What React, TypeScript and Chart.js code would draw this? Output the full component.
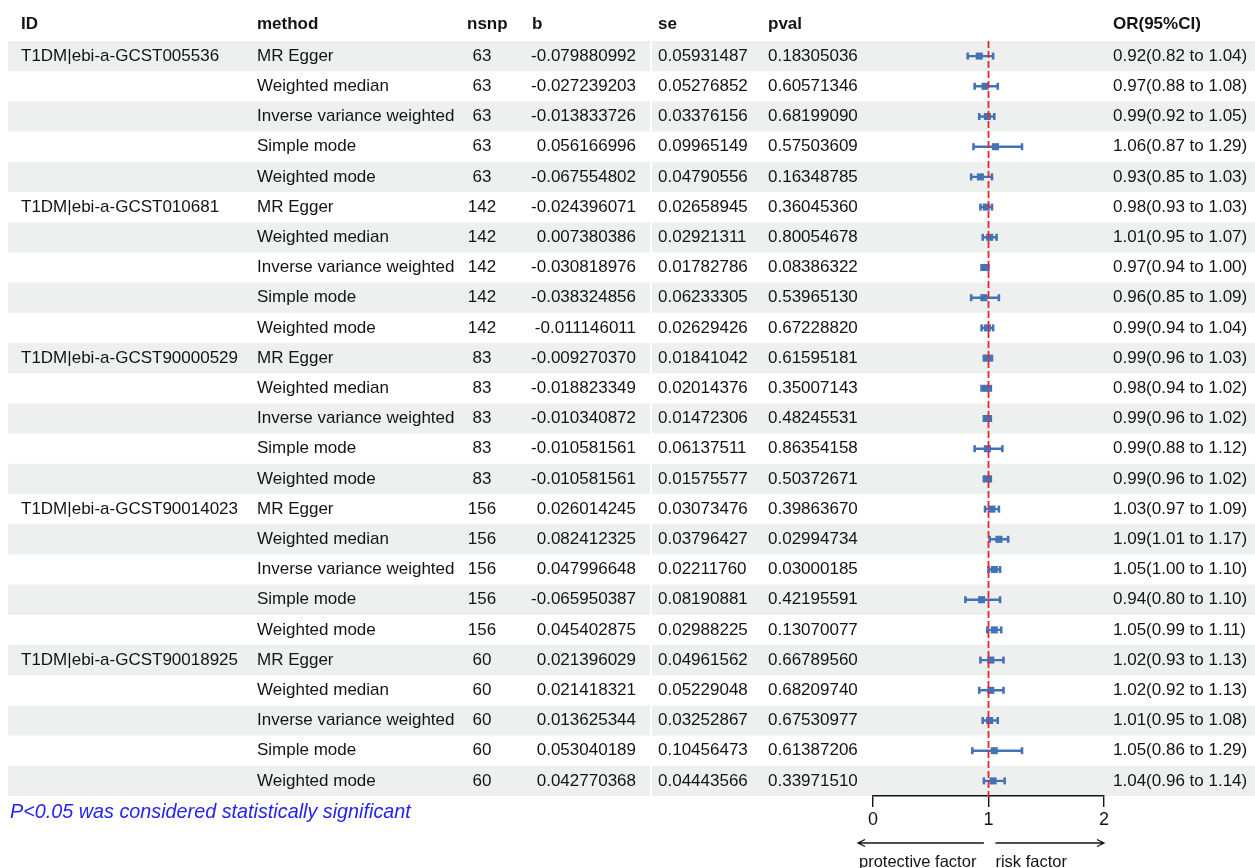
import React, { useEffect, useRef } from "react";
import { Chart, registerables } from "chart.js";

Chart.register(...registerables);

// ---- table data ----
const exposureIds = [
  "T1DM|ebi-a-GCST005536", "", "", "", "",
  "T1DM|ebi-a-GCST010681", "", "", "", "",
  "T1DM|ebi-a-GCST90000529", "", "", "", "",
  "T1DM|ebi-a-GCST90014023", "", "", "", "",
  "T1DM|ebi-a-GCST90018925", "", "", "", "",
];

const methodGroup = [
  "MR Egger",
  "Weighted median",
  "Inverse variance weighted",
  "Simple mode",
  "Weighted mode",
];
const methods = [
  ...methodGroup, ...methodGroup, ...methodGroup, ...methodGroup, ...methodGroup,
];

const nsnp = [
  63, 63, 63, 63, 63,
  142, 142, 142, 142, 142,
  83, 83, 83, 83, 83,
  156, 156, 156, 156, 156,
  60, 60, 60, 60, 60,
];

const betas = [
  -0.079880992, -0.027239203, -0.013833726, 0.056166996, -0.067554802,
  -0.024396071, 0.007380386, -0.030818976, -0.038324856, -0.011146011,
  -0.00927037, -0.018823349, -0.010340872, -0.010581561, -0.010581561,
  0.026014245, 0.082412325, 0.047996648, -0.065950387, 0.045402875,
  0.021396029, 0.021418321, 0.013625344, 0.053040189, 0.042770368,
];

const standardErrors = [
  0.05931487, 0.05276852, 0.03376156, 0.09965149, 0.04790556,
  0.02658945, 0.02921311, 0.01782786, 0.06233305, 0.02629426,
  0.01841042, 0.02014376, 0.01472306, 0.06137511, 0.01575577,
  0.03073476, 0.03796427, 0.0221176, 0.08190881, 0.02988225,
  0.04961562, 0.05229048, 0.03252867, 0.10456473, 0.04443566,
];

const pValues = [
  0.18305036, 0.60571346, 0.6819909, 0.57503609, 0.16348785,
  0.3604536, 0.80054678, 0.08386322, 0.5396513, 0.6722882,
  0.61595181, 0.35007143, 0.48245531, 0.86354158, 0.50372671,
  0.3986367, 0.02994734, 0.03000185, 0.42195591, 0.13070077,
  0.6678956, 0.6820974, 0.67530977, 0.61387206, 0.3397151,
];

const oddsRatios = [
  0.92, 0.97, 0.99, 1.06, 0.93,
  0.98, 1.01, 0.97, 0.96, 0.99,
  0.99, 0.98, 0.99, 0.99, 0.99,
  1.03, 1.09, 1.05, 0.94, 1.05,
  1.02, 1.02, 1.01, 1.05, 1.04,
];

const lowerCI = [
  0.82, 0.88, 0.92, 0.87, 0.85,
  0.93, 0.95, 0.94, 0.85, 0.94,
  0.96, 0.94, 0.96, 0.88, 0.96,
  0.97, 1.01, 1.0, 0.8, 0.99,
  0.93, 0.92, 0.95, 0.86, 0.96,
];

const upperCI = [
  1.04, 1.08, 1.05, 1.29, 1.03,
  1.03, 1.07, 1.0, 1.09, 1.04,
  1.03, 1.02, 1.02, 1.12, 1.02,
  1.09, 1.17, 1.1, 1.1, 1.11,
  1.13, 1.13, 1.08, 1.29, 1.14,
];

const headers = ["ID", "method", "nsnp", "b", "se", "pval", "OR(95%CI)"];
const axisTicks = [0, 1, 2];
const referenceOR = 1;
const noteText = "P<0.05 was considered statistically significant";
const leftArrowLabel = "protective factor";
const rightArrowLabel = "risk factor";

// ---- styling ----
const BLUE = "#4472b6";
const RED = "#e8262a";
const STRIPE = "#eef0ef";
const TEXT = "#141414";
const FONT = "Arial, 'Liberation Sans', sans-serif";

const WIDTH = 1255;
const HEIGHT = 868;

const rowCount = methods.length;

const tablePlugin = {
  id: "forestTable",
  beforeDraw(chart: any) {
    const { ctx } = chart;
    const y = chart.scales.y;
    ctx.save();
    ctx.fillStyle = "#ffffff";
    ctx.fillRect(0, 0, WIDTH, HEIGHT);
    // zebra stripes
    for (let i = 0; i < rowCount; i += 2) {
      const top = y.getPixelForValue(i - 0.5);
      const bottom = y.getPixelForValue(i + 0.5);
      ctx.fillStyle = STRIPE;
      ctx.fillRect(8, top, WIDTH - 8, bottom - top);
    }
    // thin cell separator between the b and se columns
    ctx.fillStyle = "#ffffff";
    ctx.fillRect(
      650,
      y.getPixelForValue(-0.5),
      2,
      y.getPixelForValue(rowCount - 0.5) - y.getPixelForValue(-0.5)
    );
    ctx.restore();
  },
  afterDraw(chart: any) {
    const { ctx } = chart;
    const x = chart.scales.x;
    const y = chart.scales.y;
    ctx.save();
    ctx.textBaseline = "middle";
    ctx.fillStyle = TEXT;

    // header row
    const hy = y.getPixelForValue(-1.06);
    ctx.font = `bold 17px ${FONT}`;
    const headerX = [21, 257, 467, 532, 658, 768, 1113];
    headers.forEach((h, k) => {
      ctx.textAlign = "left";
      ctx.fillText(h, headerX[k], hy);
    });

    // body rows
    ctx.font = `17px ${FONT}`;
    for (let i = 0; i < rowCount; i++) {
      const cy = y.getPixelForValue(i);
      ctx.textAlign = "left";
      if (exposureIds[i]) ctx.fillText(exposureIds[i], 21, cy);
      ctx.fillText(methods[i], 257, cy);
      ctx.textAlign = "center";
      ctx.fillText(String(nsnp[i]), 482, cy);
      ctx.textAlign = "right";
      ctx.fillText(betas[i].toFixed(9), 636, cy);
      ctx.textAlign = "left";
      ctx.fillText(standardErrors[i].toFixed(8), 658, cy);
      ctx.fillText(pValues[i].toFixed(8), 768, cy);
      ctx.fillText(
        `${oddsRatios[i].toFixed(2)}(${lowerCI[i].toFixed(2)} to ${upperCI[i].toFixed(2)})`,
        1113,
        cy
      );
    }

    // footnote
    ctx.font = `italic 19.8px ${FONT}`;
    ctx.fillStyle = "#2424ec";
    ctx.textAlign = "left";
    ctx.fillText(noteText, 10, 812);

    // direction arrows below the axis
    const ay = 843;
    const head = 7;
    const l0 = x.getPixelForValue(0.96);
    const l1 = x.getPixelForValue(-0.13);
    const r0 = x.getPixelForValue(1.06);
    const r1 = x.getPixelForValue(2);
    ctx.strokeStyle = "#141414";
    ctx.lineWidth = 1.3;
    ctx.beginPath();
    ctx.moveTo(l0, ay);
    ctx.lineTo(l1, ay);
    ctx.moveTo(l1 + head, ay - head / 2);
    ctx.lineTo(l1, ay);
    ctx.lineTo(l1 + head, ay + head / 2);
    ctx.moveTo(r0, ay);
    ctx.lineTo(r1, ay);
    ctx.moveTo(r1 - head, ay - head / 2);
    ctx.lineTo(r1, ay);
    ctx.lineTo(r1 - head, ay + head / 2);
    ctx.stroke();

    ctx.fillStyle = TEXT;
    ctx.font = `16.5px ${FONT}`;
    ctx.textAlign = "left";
    ctx.fillText(leftArrowLabel, l1 + 1, 862);
    ctx.fillText(rightArrowLabel, r0, 862);
    ctx.restore();
  },
};

export default function App() {
  const canvasRef = useRef<HTMLCanvasElement | null>(null);

  useEffect(() => {
    const canvas = canvasRef.current;
    if (!canvas) return;

    // confidence interval segments, separated by gaps
    const ciPoints: { x: number | null; y: number | null }[] = [];
    for (let i = 0; i < rowCount; i++) {
      ciPoints.push({ x: lowerCI[i], y: i });
      ciPoints.push({ x: upperCI[i], y: i });
      ciPoints.push({ x: null, y: null });
    }
    const estimatePoints = oddsRatios.map((v, i) => ({ x: v, y: i }));

    const chart = new Chart(canvas, {
      type: "scatter",
      data: {
        datasets: [
          {
            label: "reference",
            data: [
              { x: referenceOR, y: -0.5 },
              { x: referenceOR, y: rowCount - 0.5 },
            ],
            showLine: true,
            borderColor: RED,
            borderWidth: 1.8,
            borderDash: [7, 3],
            pointRadius: 0,
            order: 0,
          },
          {
            label: "95% CI",
            data: ciPoints as any,
            showLine: true,
            spanGaps: false,
            borderColor: BLUE,
            borderWidth: 2.4,
            pointStyle: "line",
            rotation: 90,
            pointRadius: 3.5,
            pointBorderWidth: 2.6,
            pointBorderColor: BLUE,
            order: 2,
          },
          {
            label: "OR",
            data: estimatePoints,
            pointStyle: "rect",
            pointRadius: 5,
            pointBackgroundColor: BLUE,
            pointBorderWidth: 0,
            order: 1,
          },
        ],
      },
      options: {
        animation: false,
        responsive: false,
        devicePixelRatio: 1,
        layout: {
          padding: { left: 873, right: WIDTH - 1104, top: 41, bottom: 36 },
        },
        plugins: {
          legend: { display: false },
          tooltip: { enabled: false },
        },
        scales: {
          x: {
            type: "linear",
            position: "bottom",
            min: axisTicks[0],
            max: axisTicks[axisTicks.length - 1],
            afterBuildTicks: (scale: any) => {
              scale.ticks = axisTicks.map((v) => ({ value: v }));
            },
            afterFit: (scale: any) => {
              scale.height = 36;
            },
            ticks: {
              color: "#141414",
              font: { family: FONT, size: 18 },
              padding: 2,
              maxRotation: 0,
            },
            grid: {
              drawOnChartArea: false,
              drawTicks: true,
              tickLength: 11,
              color: "#141414",
              lineWidth: 1.4,
            },
            border: { display: true, color: "#141414", width: 1.4 },
          },
          y: {
            type: "linear",
            min: -0.5,
            max: rowCount - 0.5,
            reverse: true,
            display: false,
          },
        },
      },
      plugins: [tablePlugin],
    });

    return () => chart.destroy();
  }, []);

  return (
    <div
      style={{
        position: "absolute",
        left: 0,
        top: 0,
        width: WIDTH,
        height: HEIGHT,
        background: "#fff",
      }}
    >
      <canvas ref={canvasRef} width={WIDTH} height={HEIGHT} style={{ display: "block" }} />
    </div>
  );
}
